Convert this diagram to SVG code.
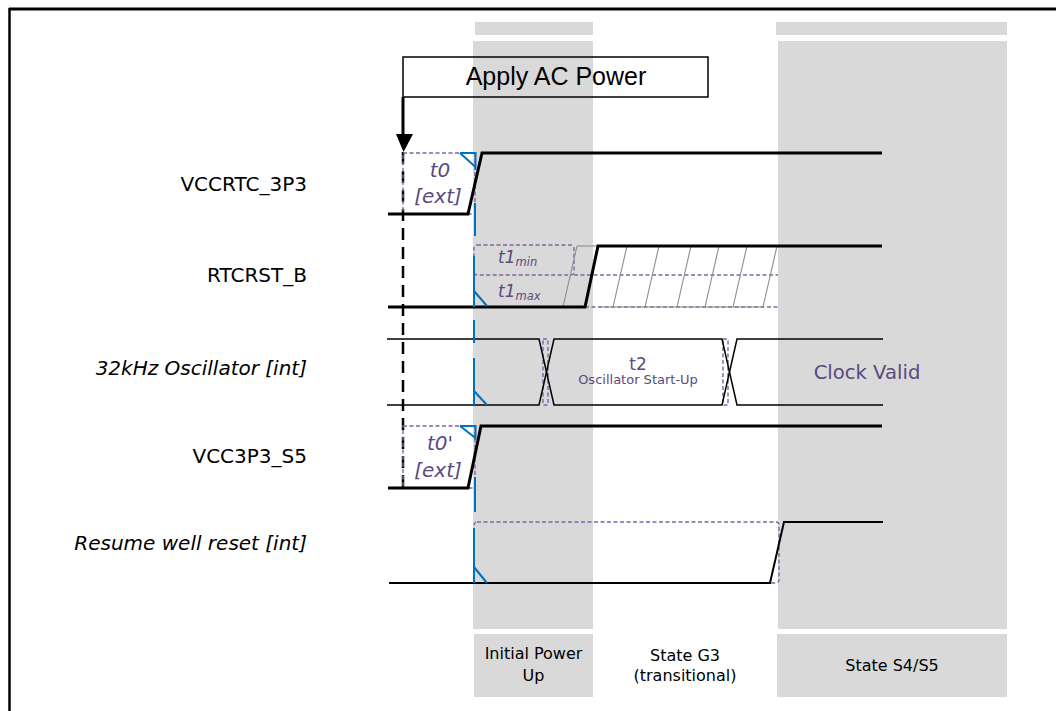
<svg xmlns="http://www.w3.org/2000/svg" width="1056" height="711" viewBox="0 0 1056 711">
<style>
.band{fill:#d9d9d9}
.sig{fill:none;stroke:#000;stroke-width:3;stroke-linejoin:miter}
.thin{fill:none;stroke:#000;stroke-width:1.5}
.pd{fill:none;stroke:#8064a2;stroke-width:1.4;stroke-dasharray:4 2.5}
.blue{fill:none;stroke:#0070c0;stroke-width:2}
.hatch{fill:none;stroke:#8c8c8c;stroke-width:1.1}
.lbl{font-family:"DejaVu Sans",Verdana,sans-serif;font-size:20px;fill:#000;text-anchor:end}
.it{font-style:italic}
.tm{font-family:"DejaVu Sans",Verdana,sans-serif;fill:#5a4a7e;text-anchor:middle;font-style:italic}
.tms{font-family:"DejaVu Sans",Verdana,sans-serif;fill:#5a4a7e;text-anchor:start;font-style:italic;font-size:17px}
.sub{font-size:11.5px}
.st{font-family:"DejaVu Sans",Verdana,sans-serif;fill:#000;font-size:16px;text-anchor:middle}
.os{font-family:"DejaVu Sans",Verdana,sans-serif;fill:#5a4a7e;text-anchor:middle}
</style>
<rect width="1056" height="711" fill="#fff"/>
<g id="frame">
<line x1="9" y1="9" x2="1056" y2="9" stroke="#000" stroke-width="3"/>
<line x1="9.5" y1="8" x2="9.5" y2="711" stroke="#000" stroke-width="2.5"/>
</g>
<g id="bands">
<rect class="band" x="475" y="22" width="118" height="13"/>
<rect class="band" x="473" y="41" width="120" height="588"/>
<rect class="band" x="776" y="22" width="231" height="13"/>
<rect class="band" x="778" y="41" width="229" height="588"/>
</g>
<g id="state-initial">
<rect class="band" x="474" y="634" width="119" height="63"/>
<text class="st" x="533.5" y="659">Initial Power</text>
<text class="st" x="533.5" y="681">Up</text>
</g>
<g id="state-g3">
<text class="st" x="685" y="661">State G3</text>
<text class="st" x="685" y="681">(transitional)</text>
</g>
<g id="state-s4s5">
<rect class="band" x="777" y="634" width="230" height="63"/>
<text class="st" x="892" y="671">State S4/S5</text>
</g>
<g id="labels">
<text class="lbl" x="307" y="191">VCCRTC_3P3</text>
<text class="lbl" x="307" y="282">RTCRST_B</text>
<text class="lbl it" x="307" y="375">32kHz Oscillator [int]</text>
<text class="lbl" x="307" y="463">VCC3P3_S5</text>
<text class="lbl it" x="307" y="550">Resume well reset [int]</text>
</g>
<g id="apply-ac-power">
<rect x="403" y="57" width="305" height="40" fill="none" stroke="#000" stroke-width="1.5"/>
<text x="556" y="85" font-family="'Liberation Sans',Arial,sans-serif" font-size="25" text-anchor="middle">Apply AC Power</text>
</g>
<g id="connectors">
<line x1="403" y1="97" x2="403" y2="136" stroke="#000" stroke-width="3"/>
<polygon points="396,134 413,134 403.5,152" fill="#000"/>
<line x1="403" y1="152" x2="403" y2="488" stroke="#000" stroke-width="2.5" stroke-dasharray="12 7"/>
</g>
<g id="vccrtc">
<rect class="pd" x="403" y="153" width="72" height="61"/>
<polyline class="sig" points="388,214 468,214 482,153 882,153"/>
<text class="tm" x="440" y="177" font-size="20">t0</text>
<text class="tm" x="438" y="203" font-size="20">[ext]</text>
</g>
<g id="rtcrst">
<rect class="pd" x="474" y="245" width="100" height="30" rx="3"/>
<line class="pd" x1="574" y1="275" x2="778" y2="275"/>
<line class="pd" x1="585" y1="307" x2="778" y2="307"/>
<line class="hatch" x1="577" y1="246" x2="598" y2="246"/>
<line class="hatch" x1="598" y1="307" x2="763" y2="307"/>
<line class="hatch" x1="563" y1="307" x2="577" y2="246"/>
<line class="hatch" x1="613" y1="307" x2="627" y2="246"/>
<line class="hatch" x1="645" y1="307" x2="659" y2="246"/>
<line class="hatch" x1="677" y1="307" x2="691" y2="246"/>
<line class="hatch" x1="705" y1="307" x2="719" y2="246"/>
<line class="hatch" x1="733" y1="307" x2="747" y2="246"/>
<line class="hatch" x1="763" y1="307" x2="777" y2="246"/>
<polyline class="sig" points="388,307 585,307 598,246 882,246"/>
<text class="tms" x="498" y="263">t1<tspan class="sub" dy="3">min</tspan></text>
<text class="tms" x="498" y="297">t1<tspan class="sub" dy="3">max</tspan></text>
</g>
<g id="oscillator">
<rect class="pd" x="543" y="339" width="5" height="66"/>
<rect class="pd" x="723" y="339" width="5" height="66"/>
<polyline class="thin" points="387,339 539,339 554,405 722,405 737,339 883,339"/>
<polyline class="thin" points="387,405 539,405 554,339 722,339 737,405 883,405"/>
<text class="os" x="638" y="370" font-size="17">t2</text>
<text class="os" x="638" y="384" font-size="13">Oscillator Start-Up</text>
<text class="os" x="867" y="379" font-size="19.6">Clock Valid</text>
</g>
<g id="vcc3p3">
<rect class="pd" x="403" y="426" width="72" height="62"/>
<polyline class="sig" points="388,488 468,488 481,426 882,426"/>
<text class="tm" x="440" y="450" font-size="20">t0'</text>
<text class="tm" x="438" y="477" font-size="20">[ext]</text>
</g>
<g id="resume">
<rect class="pd" x="474" y="522" width="305" height="61" rx="3"/>
<polyline fill="none" stroke="#000" stroke-width="2" points="389,583 770,583 784,522 883,522"/>
</g>
<g id="blue-marker">
<path class="blue" d="M460,153 H475.5 V170 M460,153 L475.5,167"/>
<line class="blue" x1="475" y1="203" x2="475" y2="236"/>
<path class="blue" d="M474,256 V307 M474,291 L487,306"/>
<line class="blue" x1="474" y1="320" x2="474" y2="343"/>
<path class="blue" d="M474,358 V405 M474,391 L487,405"/>
<path class="blue" d="M460,426 H475.5 V440 M460,426 L475.5,438"/>
<line class="blue" x1="475" y1="477" x2="475" y2="512"/>
<path class="blue" d="M474,528 V583 M474,567 L487,583"/>
</g>
</svg>
